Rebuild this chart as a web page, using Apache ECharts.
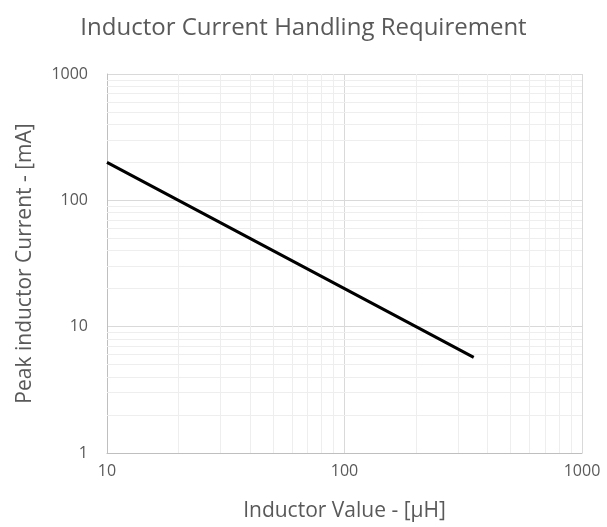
<!DOCTYPE html>
<html>
<head>
<meta charset="utf-8">
<script src="https://cdn.jsdelivr.net/npm/echarts@6/dist/echarts.min.js"></script>
<style>html,body{margin:0;padding:0;background:#fff;}#c{width:607px;height:527px;}</style>
</head>
<body>
<div id="c"></div>
<script>
var inductance = [10, 20, 50, 100, 200, 350];
var peakCurrent = [200, 100, 40, 20, 10, 5.71];
var xMinorGrid = [20, 30, 40, 50, 60, 70, 80, 90, 200, 300, 400, 500, 600, 700, 800, 900];
var yMinorGrid = [2, 3, 4, 5, 6, 7, 8, 9, 20, 30, 40, 50, 60, 70, 80, 90, 200, 300, 400, 500, 600, 700, 800, 900];

var font = '"Open Sans", "Liberation Sans", sans-serif';
var chart = echarts.init(document.getElementById('c'));
var minorLines = [];
xMinorGrid.forEach(function (v) { minorLines.push({ xAxis: v }); });
yMinorGrid.forEach(function (v) { minorLines.push({ yAxis: v }); });
function plain(v) { return String(v); }

chart.setOption({
  animation: false,
  title: {
    text: 'Inductor Current Handling Requirement',
    left: 'center', top: 11,
    textStyle: { fontFamily: font, fontSize: 24, fontWeight: 'normal', color: '#595959' }
  },
  grid: { left: 107, top: 74, right: 25, bottom: 74 },
  xAxis: {
    type: 'log', logBase: 10, min: 10, max: 1000,
    name: 'Inductor Value - [µH]', nameLocation: 'middle', nameGap: 48,
    nameTextStyle: { fontFamily: font, fontSize: 21, color: '#595959' },
    axisLine: { lineStyle: { color: '#bfbfbf' } },
    axisTick: { show: false },
    axisLabel: { fontFamily: font, fontSize: 16, color: '#595959', margin: 10, formatter: plain },
    splitLine: { show: true, lineStyle: { color: '#d9d9d9', width: 1 } }
  },
  yAxis: {
    type: 'log', logBase: 10, min: 1, max: 1000,
    name: 'Peak inductor Current - [mA]', nameLocation: 'middle', nameGap: 71,
    nameTextStyle: { fontFamily: font, fontSize: 21, color: '#595959' },
    axisLine: { show: true, lineStyle: { color: '#bfbfbf' } },
    axisTick: { show: false },
    axisLabel: { fontFamily: font, fontSize: 16, color: '#595959', margin: 19, formatter: plain },
    splitLine: { show: true, lineStyle: { color: '#d9d9d9', width: 1 } }
  },
  series: [{
    type: 'line',
    data: inductance.map(function (x, i) { return [x, peakCurrent[i]]; }),
    showSymbol: false,
    lineStyle: { color: '#000', width: 3 },
    z: 5,
    markLine: {
      silent: true, symbol: ['none', 'none'], label: { show: false },
      lineStyle: { color: '#eeeeee', width: 1, type: 'solid' },
      data: minorLines, z: 1
    }
  }]
});
</script>
</body>
</html>
